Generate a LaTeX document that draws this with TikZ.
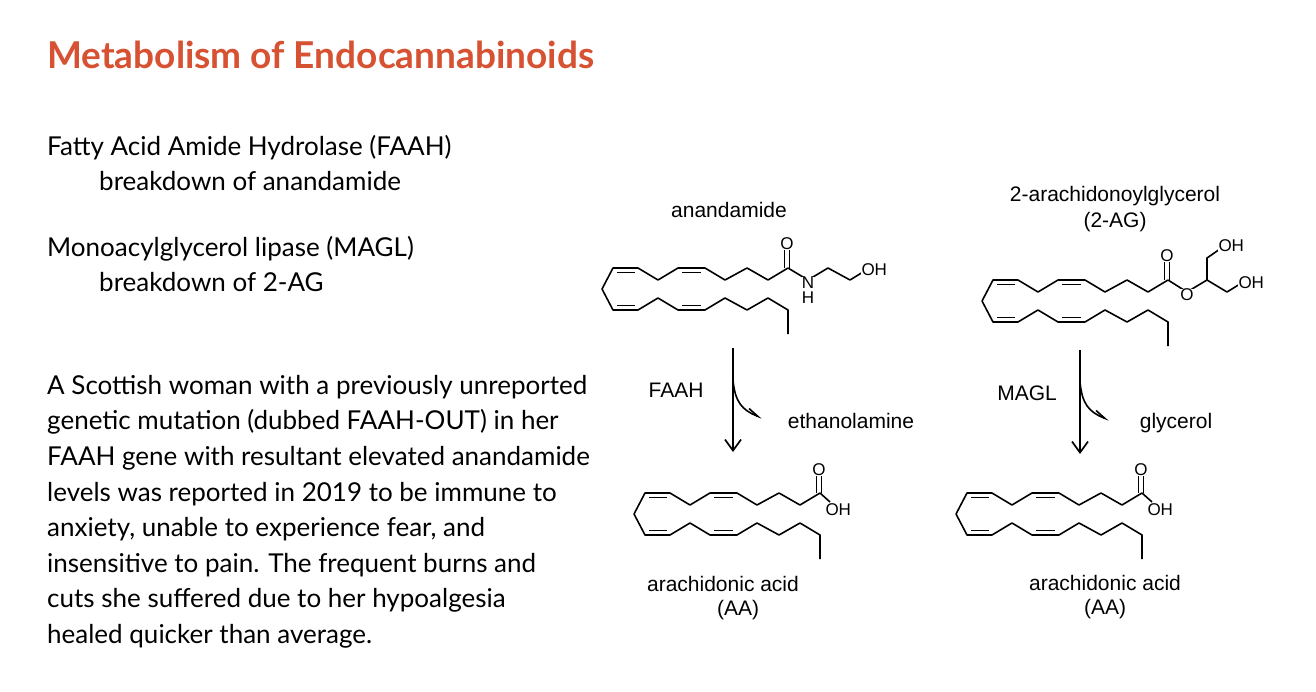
\documentclass[tikz,border=0pt]{standalone}
\usepackage{fontspec}
\setmainfont{Lato}
\newfontfamily\chemfont{Liberation Sans}
\usetikzlibrary{arrows.meta}
\definecolor{titlec}{RGB}{214,82,50}
\tikzset{
  bond/.style={line width=1.6pt,line join=round},
  chemtxt/.style={font=\chemfont\fontsize{21}{23}\selectfont,inner sep=1pt},
  atom/.style={font=\chemfont\fontsize{17}{18}\selectfont,inner sep=0.3pt,fill=white},
  bodytxt/.style={font=\fontsize{26}{30}\selectfont,anchor=base west,inner sep=0pt},
  rxn/.style={line width=1.7pt,-{Straight Barb[length=11pt,width=16pt]}},
  branch/.style={line width=1.6pt,-{Straight Barb[left,length=11pt,width=8pt]}},
  pics/chain/.style={code={
    \draw[bond] (186,0) -- (166,12) -- (145,0) -- (123,12) -- (103,0) -- (76,0) -- (56,12) -- (36,0) -- (11,0) -- (0,21) -- (11,42) -- (36,42) -- (56,30) -- (76,42) -- (103,42) -- (123,30) -- (145,42) -- (166,30) -- (186,42) -- (186,66);
    \draw[bond] (15,4.5) -- (33,4.5) (80,4.5) -- (99,4.5) (15,37.5) -- (33,37.5) (80,37.5) -- (99,37.5);
  }}
}
\begin{document}
\begin{tikzpicture}[x=1pt,y=-1pt]
\useasboundingbox (0,0) rectangle (1316,692);
\fill[white] (0,0) rectangle (1316,692);
% title
\node[anchor=base west,inner sep=0pt,text=titlec,font=\bfseries\fontsize{37}{40}\selectfont] (title) at (47,69) {Metabolism of Endocannabinoids};
% left text
\node[bodytxt] (t1) at (47,156) {Fatty Acid Amide Hydrolase (FAAH)};
\node[bodytxt] (t2) at (99,191) {breakdown of anandamide};
\node[bodytxt] (t3) at (47,257) {Monoacylglycerol lipase (MAGL)};
\node[bodytxt] (t4) at (99,292) {breakdown of 2-AG};
\node[bodytxt] (p1) at (47,394) {A Scottish woman with a previously unreported};
\node[bodytxt] (p2) at (47,429) {genetic mutation (dubbed FAAH-OUT) in her};
\node[bodytxt] (p3) at (47,465) {FAAH gene with resultant elevated anandamide};
\node[bodytxt] (p4) at (47,501) {levels was reported in 2019 to be immune to};
\node[bodytxt] (p5) at (47,536) {anxiety, unable to experience fear, and};
\node[bodytxt] (p6) at (47,572) {insensitive to pain. The frequent burns and};
\node[bodytxt] (p7) at (47,607) {cuts she suffered due to her hypoalgesia};
\node[bodytxt] (p8) at (47,643) {healed quicker than average.};

% anandamide
\node[chemtxt] (lab1) at (729,210) {anandamide};
\pic at (602,268) {chain};
\draw[bond] (789.5,268) -- (789.5,250);
\draw[bond] (784.5,268) -- (784.5,250);
\node[atom] (o1) at (787,244) {O};
\draw[bond] (788,268) -- (808,280) -- (828,268) -- (850,280) -- (863,272);
\node[atom] (n1) at (808,283) {N};
\node[atom] (h1) at (808,298) {H};
\node[atom,anchor=west] (oh1) at (861,270) {OH};

% 2-AG
\node[chemtxt] (lab2a) at (1115,196) {2-arachidonoylglycerol};
\node[chemtxt] (lab2b) at (1115,222) {(2-AG)};
\pic at (982,280) {chain};
\draw[bond] (1169.5,280) -- (1169.5,262);
\draw[bond] (1164.5,280) -- (1164.5,262);
\node[atom] (o2) at (1167,256) {O};
\draw[bond] (1168,280) -- (1187,292) -- (1207,280) -- (1207,258) -- (1220,249);
\draw[bond] (1207,280) -- (1227,292) -- (1240,284);
\node[atom] (o3) at (1187,295) {O};
\node[atom,anchor=west] (oh2) at (1218,246) {OH};
\node[atom,anchor=west] (oh3) at (1238,283) {OH};

% FAAH arrow
\coordinate (a1s) at (733,348);
\coordinate (a1e) at (733,452);
\coordinate (a1b) at (762,418);
\draw[rxn] (a1s) -- (a1e);
\draw[branch] (733,380) .. controls (735,402) and (742,410) .. (a1b);
\node[chemtxt] (faah) at (676,390) {FAAH};
\node[chemtxt] (eth) at (851,421) {ethanolamine};

% MAGL arrow
\coordinate (a2s) at (1080,350);
\coordinate (a2e) at (1080,454);
\coordinate (a2b) at (1109,420);
\draw[rxn] (a2s) -- (a2e);
\draw[branch] (1080,382) .. controls (1082,404) and (1089,412) .. (a2b);
\node[chemtxt] (magl) at (1027,393) {MAGL};
\node[chemtxt] (gly) at (1176,423) {glycerol};

% AA left
\pic at (634,493) {chain};
\draw[bond] (821.5,493) -- (821.5,476);
\draw[bond] (816.5,493) -- (816.5,476);
\node[atom] (o4) at (819,470) {O};
\draw[bond] (820,493) -- (830,502);
\node[atom,anchor=west] (oh4) at (825,510) {OH};
\node[chemtxt] (aa1) at (723,584) {arachidonic acid};
\node[chemtxt] (aa1b) at (738,610) {(AA)};

% AA right
\pic at (956,493) {chain};
\draw[bond] (1143.5,493) -- (1143.5,476);
\draw[bond] (1138.5,493) -- (1138.5,476);
\node[atom] (o5) at (1141,470) {O};
\draw[bond] (1142,493) -- (1152,502);
\node[atom,anchor=west] (oh5) at (1147,510) {OH};
\node[chemtxt] (aa2) at (1105,583) {arachidonic acid};
\node[chemtxt] (aa2b) at (1105,609) {(AA)};
\end{tikzpicture}
\end{document}
